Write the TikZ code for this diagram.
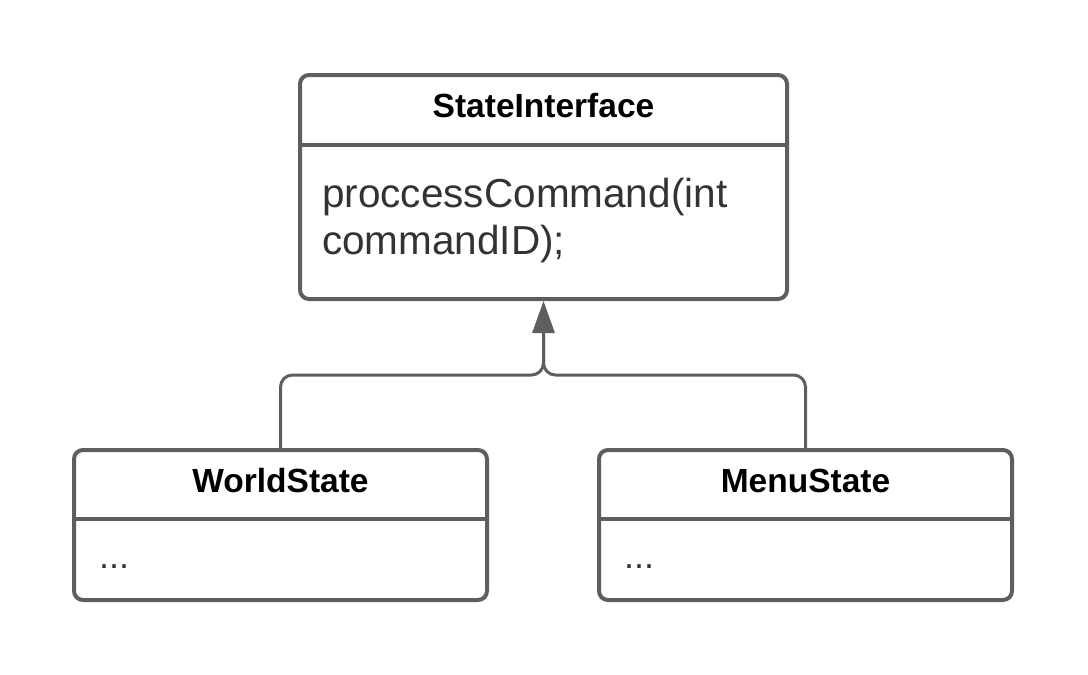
\documentclass[tikz,border=0pt]{standalone}
\usepackage{fontspec}
\setmainfont{Liberation Sans}
\usetikzlibrary{arrows.meta}
\definecolor{linegray}{HTML}{5E5E5E}
\definecolor{textgray}{HTML}{333333}
\begin{document}
\begin{tikzpicture}[x=1pt,y=-1pt,
	umlbox/.style={draw=linegray, line width=4pt, rounded corners=9pt, inner sep=0pt},
	divider/.style={draw=linegray, line width=4pt},
	title/.style={anchor=base, inner sep=0pt, font=\fontsize{33.5}{38}\selectfont\bfseries},
	body/.style={anchor=base west, inner sep=0pt, align=left, text=textgray},
	conn/.style={draw=linegray, line width=3pt, rounded corners=12pt}]
	\useasboundingbox (0,0) rectangle (1088,675);
	
	\node[umlbox, minimum width=487pt, minimum height=224pt] (si) at (543.5,187) {};
	\draw[divider] (si.west |- 0,145) -- (si.east |- 0,145);
	\node[title] (sititle) at (543.5,117) {StateInterface};
	\node[body, font=\fontsize{40.5}{47}\selectfont] (sibody) at (322,254) {proccessCommand(int\\commandID);};
	
	\node[umlbox, minimum width=413pt, minimum height=150pt] (ws) at (280.5,525) {};
	\draw[divider] (ws.west |- 0,519) -- (ws.east |- 0,519);
	\node[title] (wstitle) at (280.5,492) {WorldState};
	\node[body, font=\fontsize{36}{40}\selectfont] (wsbody) at (99,568) {...};
	
	\node[umlbox, minimum width=413pt, minimum height=150pt] (ms) at (805.5,525) {};
	\draw[divider] (ms.west |- 0,519) -- (ms.east |- 0,519);
	\node[title] (mstitle) at (805.5,492) {MenuState};
	\node[body, font=\fontsize{36}{40}\selectfont] (msbody) at (624,568) {...};
	
	\coordinate (join) at (543.5,375);
	\coordinate (tipbase) at (543.5,336);
	\draw[conn, -{Triangle[length=32pt,width=22pt]}] (ws.north) |- (join) -- (si.south);
	\draw[conn] (ms.north) |- (join) -- (tipbase);
\end{tikzpicture}
\end{document}
